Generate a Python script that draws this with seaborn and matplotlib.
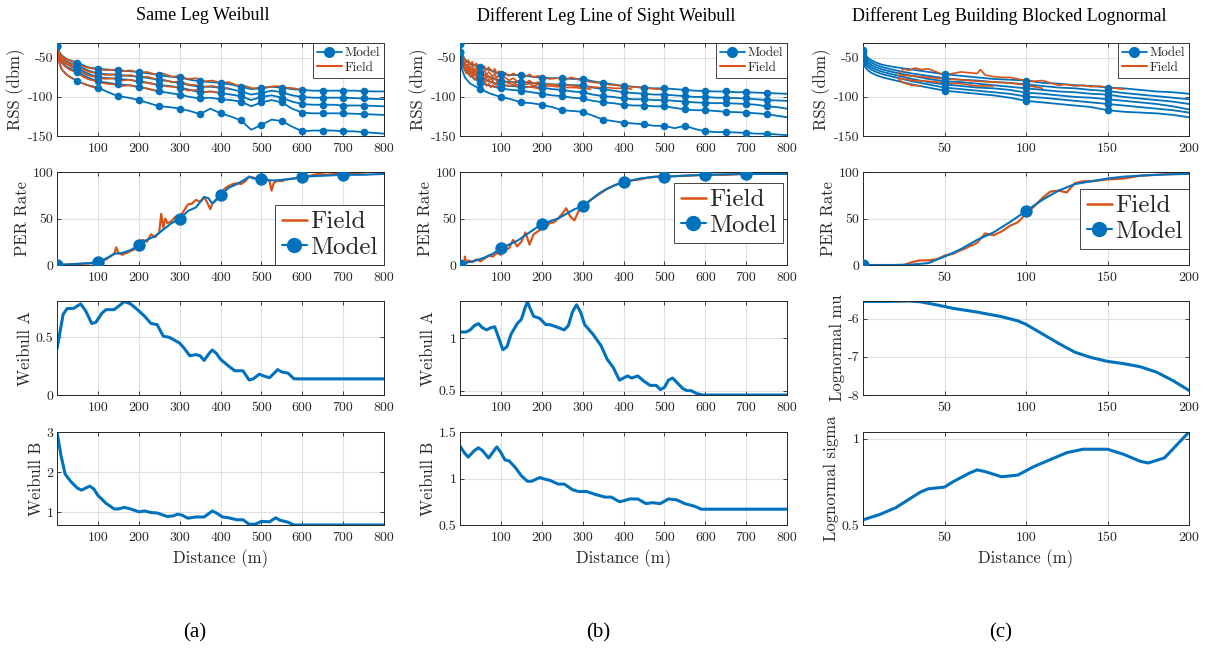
import matplotlib
matplotlib.use('Agg')
import matplotlib.pyplot as plt
import seaborn as sns
from matplotlib.lines import Line2D
from matplotlib.ticker import FixedLocator, FuncFormatter

sns.set_style('ticks')
plt.rcParams['font.family'] = ['cmr10', 'DejaVu Serif']
plt.rcParams['axes.unicode_minus'] = False
plt.rcParams['axes.formatter.use_mathtext'] = False

BLUE = '#0072BD'
ORANGE = '#D95319'

# ---------------- column titles / labels ----------------
col_titles = ['Same Leg Weibull', 'Different Leg Line of Sight Weibull',
              'Different Leg Building Blocked Lognormal']
col_tags = ['(a)', '(b)', '(c)']
xlabel_text = 'Distance (m)'
ylabels_ab = ['RSS (dbm)', 'PER Rate', 'Weibull A', 'Weibull B']
ylabels_c = ['RSS (dbm)', 'PER Rate', 'Lognormal mu', 'Lognormal sigma']

# ---------------- RSS, column (a) ----------------
rss_x_ab = [0, 5, 12, 25, 50, 75, 100, 125, 150, 175, 200, 225, 250, 275, 300, 325, 350,
            375, 400, 425, 450, 475, 500, 525, 550, 575, 600, 625, 650, 675, 700, 725,
            750, 775, 800]
rss_a_m1 = [-35, -42, -47, -52, -56, -62, -64, -65, -66, -67, -68, -70, -72, -74, -75, -78, -80,
            -81, -82, -84, -87, -90, -89, -87, -88, -90, -91, -92, -92, -92, -92, -92, -92.5, -93, -93]
rss_a_m2 = [-35, -44, -50, -55, -60, -66, -70, -71, -72, -73, -74, -76, -78, -80, -82, -85, -87,
            -87, -88, -90, -93, -97, -95, -92, -94, -98, -100, -101, -101, -101, -101, -101.5,
            -102, -102.5, -103]
rss_a_m3 = [-35, -46, -53, -58, -64, -70, -75, -76, -77, -78, -80, -82, -85, -86, -88, -91, -94,
            -93, -95, -97, -99, -104, -100, -98, -101, -106, -109, -110, -110, -110, -111, -111,
            -111, -111.5, -112]
rss_a_m4 = [-35, -48, -56, -62, -68, -75, -80, -82, -84, -85, -87, -90, -93, -95, -97, -100, -102,
            -101, -103, -104, -106, -112, -107, -104, -107, -115, -120, -121, -121, -121, -121,
            -121.5, -122, -122.5, -123]
rss_a_m5 = [-35, -55, -65, -72, -80, -85, -88, -94, -99, -101, -104, -108, -112, -113, -115, -118,
            -122, -115, -121, -125, -130, -142, -136, -129, -131, -138, -144, -143, -143, -143,
            -144, -144, -145, -146, -147]

rss_a_f1_x = [0, 5, 10, 20, 30, 40, 50, 60, 70, 80, 90, 100, 120, 140, 160, 180, 200, 220, 240,
              260, 280, 300, 320, 340, 360, 380, 400, 420, 440, 460, 480, 500, 520, 540, 560,
              580, 590]
rss_a_f1_y = [-35, -43, -47, -51, -53, -55, -57, -60, -62, -63, -64, -64, -66, -65, -67, -66, -69,
              -68, -71, -70, -74, -73, -77, -76, -80, -79, -82, -81, -85, -86, -89, -88, -87, -86,
              -88, -89, -90]
rss_a_f2_x = [0, 5, 10, 20, 30, 40, 50, 60, 70, 80, 90, 100, 120, 140, 160, 180, 200, 220, 240,
              260, 280, 300, 320, 340, 360, 380, 400, 420]
rss_a_f2_y = [-35, -45, -50, -54, -57, -59, -61, -64, -66, -68, -69, -70, -72, -71, -73, -72, -75,
              -74, -77, -78, -81, -80, -84, -85, -87, -86, -88, -89]
rss_a_f3_x = [0, 5, 10, 20, 30, 40, 50, 60, 70, 80, 90, 100, 120, 140, 160, 180, 200, 220, 240,
              260, 280, 300, 320, 340, 360, 380, 400]
rss_a_f3_y = [-35, -47, -53, -57, -60, -63, -65, -68, -71, -73, -74, -76, -77, -76, -79, -78, -81,
              -82, -84, -86, -87, -88, -92, -91, -94, -93, -95]
rss_a_f4_x = [0, 5, 10, 20, 30, 40, 50, 60, 70, 80, 90, 100, 120, 140, 160, 180, 200, 220, 240, 260]
rss_a_f4_y = [-35, -49, -56, -61, -65, -67, -69, -73, -76, -78, -79, -81, -83, -84, -86, -85, -88,
              -89, -92, -93]
rss_a_f5_x = [0, 5, 10, 20, 30, 40, 50, 60, 70, 80, 90, 100]
rss_a_f5_y = [-35, -55, -64, -70, -74, -77, -80, -82, -84, -86, -88, -89]

# ---------------- RSS, column (b) ----------------
rss_b_m1 = [-32, -45, -52, -58, -62, -66, -71, -72, -72, -74, -75.5, -76, -76, -77, -77, -80, -82,
            -84, -86, -87, -88, -89, -89, -90, -91, -92, -92.5, -93, -93, -94, -94, -94.5, -95,
            -95.5, -96]
rss_b_m2 = [-32, -50, -58, -64, -70, -75, -80, -81, -81, -82, -83, -84, -84, -85, -85, -88, -90,
            -92, -94, -95, -96, -97, -97, -98, -99, -100, -100, -101, -101, -101.5, -102, -103,
            -104, -104.5, -105]
rss_b_m3 = [-42, -55, -62, -68, -76, -81, -85, -86, -87, -87, -88, -90, -91, -93, -94, -97, -99,
            -100, -102, -103, -103, -104, -104, -105, -106, -107, -107.5, -108, -108, -108.5,
            -109, -110, -112, -113, -115]
rss_b_m4 = [-42, -58, -66, -73, -82, -86, -89, -91, -92, -94, -96, -98, -99, -101, -102, -105,
            -107, -108, -110, -111, -111, -112, -112, -114, -116, -117, -117, -118, -119, -119.5,
            -120, -121, -122, -124, -126]
rss_b_m5 = [-42, -65, -75, -83, -90, -96, -100, -103, -107, -108, -110, -113, -117, -118, -119,
            -124, -129, -131, -133, -134, -135, -137, -137, -140, -137, -141, -144, -145, -145,
            -145.5, -146, -147, -147, -148, -149]

rss_b_f1_x = [10, 15, 20, 25, 30, 35, 40, 45, 50, 55, 60, 65, 70, 75, 80, 85, 90, 95, 100, 110,
              120, 130, 140, 150, 160, 170, 180, 190, 200, 220, 240, 260, 270, 280, 290, 300,
              320, 340, 360, 380, 400, 420, 440, 460, 480, 500]
rss_b_f1_y = [-50, -56, -53, -58, -55, -60, -57, -62, -59, -63, -61, -66, -62, -65, -68, -64, -70,
              -67, -71, -69, -73, -70, -72, -70, -74, -71, -75, -73, -75, -77, -76, -78, -75, -76,
              -78, -79, -81, -82, -84, -85, -86, -87, -88, -89, -90, -90]
rss_b_f2_x = [10, 15, 20, 25, 30, 35, 40, 45, 50, 55, 60, 65, 70, 75, 80, 85, 90, 95, 100, 110,
              120, 130, 140, 150, 160, 170, 180, 190, 200, 220, 240, 260, 280, 300, 320, 340, 360,
              380, 400, 420]
rss_b_f2_y = [-55, -60, -58, -63, -60, -66, -62, -68, -64, -70, -66, -72, -68, -71, -74, -70, -76,
              -72, -77, -75, -79, -76, -80, -78, -82, -79, -83, -81, -83, -84, -85, -85, -86, -87,
              -87, -88, -88, -89, -89, -90]
rss_b_f3_x = [10, 15, 20, 25, 30, 35, 40, 45, 50, 55, 60, 65, 70, 75, 80, 85, 90, 95, 100, 110,
              120, 130, 140, 150, 160, 170, 180, 190, 200, 220, 240, 260, 280, 300, 320]
rss_b_f3_y = [-58, -64, -61, -67, -64, -70, -66, -72, -69, -74, -71, -76, -73, -77, -79, -75, -80,
              -78, -82, -80, -83, -81, -85, -82, -84, -83, -86, -84, -86, -86, -87, -88, -88, -89,
              -90]
rss_b_f4_x = [10, 15, 20, 25, 30, 35, 40, 45, 50, 55, 60, 65, 70, 75, 80, 85, 90, 95, 100, 110,
              120, 130, 140, 150, 160, 170, 180, 190, 200]
rss_b_f4_y = [-60, -66, -64, -70, -67, -73, -70, -76, -73, -78, -75, -80, -77, -82, -80, -84, -81,
              -86, -84, -85, -86, -84, -87, -86, -88, -87, -88, -89, -90]
rss_b_f5_x = [10, 15, 20, 25, 30, 35, 40, 45, 50, 55, 60, 65, 70, 75, 80, 85, 90, 95, 100]
rss_b_f5_y = [-62, -70, -67, -74, -71, -78, -75, -81, -78, -84, -80, -86, -83, -88, -85, -87, -86,
              -89, -88]

# ---------------- RSS, column (c) ----------------
rss_x_c = [0, 1, 3, 5, 8, 12, 20, 30, 40, 50, 60, 70, 80, 90, 100, 110, 120, 130, 140, 150, 160,
           170, 180, 190, 200]
rss_c_m1 = [-40, -45, -50, -53, -56, -59, -62, -65, -68, -71, -73, -75, -77, -78, -79, -82, -83,
            -85, -86, -88, -89, -91, -93, -94, -96]
rss_c_m2 = [-43, -48, -53, -56, -59, -62, -66, -70, -73, -76, -78, -79, -81, -82, -84, -86, -88,
            -89, -91, -92.5, -95, -97, -99, -101, -103]
rss_c_m3 = [-46, -51, -56, -59, -62, -65, -69, -73, -77, -80, -81, -83, -85, -87, -89, -91, -93,
            -94, -96, -97, -100, -102, -104, -106, -109]
rss_c_m4 = [-49, -54, -59, -62, -65, -68, -72, -77, -81, -84, -86, -88, -89, -91, -94.5, -96, -98,
            -100, -101, -103, -105, -107, -109, -112, -116]
rss_c_m5 = [-52, -57, -62, -65, -68, -71, -75, -80, -84, -88, -90, -92, -94, -96, -99.5, -101,
            -103, -105, -107, -109, -111, -113, -115, -117, -120]
rss_c_m6 = [-56, -61, -66, -69, -72, -75, -79, -84, -88, -92, -94, -96, -98, -101, -105, -107,
            -109, -111, -113, -117, -119, -120, -121, -123, -126]

rss_c_f1_x = [22, 25, 28, 32, 36, 40, 45, 50, 55, 60, 65, 70, 72, 75, 80, 85, 90, 95, 100, 105,
              110, 115, 120, 125, 130, 135, 140, 145, 150, 155, 160]
rss_c_f1_y = [-70, -64, -66, -63, -65, -64, -68, -72, -70, -68, -69, -70, -65, -72, -74, -75, -75,
              -77, -79, -80, -79, -82, -85, -84, -86, -85, -87, -86, -88, -89, -90]
rss_c_f2_x = [22, 30, 40, 50, 60, 70, 80, 90, 100, 110]
rss_c_f2_y = [-72, -73, -75, -77, -78, -80, -81, -82, -85, -89]
rss_c_f3_x = [22, 30, 40, 50, 60, 70, 80]
rss_c_f3_y = [-76, -79, -80, -82, -83, -86, -86]
rss_c_f4_x = [22, 25, 30, 35]
rss_c_f4_y = [-78, -82, -85, -86]

# ---------------- PER ----------------
per_a_model_x = [0, 20, 40, 60, 80, 100, 120, 140, 160, 180, 200, 220, 240, 260, 280, 300, 320,
                 340, 360, 370, 380, 390, 400, 420, 440, 460, 470, 480, 500, 520, 540, 560, 580,
                 600, 650, 700, 750, 800]
per_a_model_y = [0, 0.5, 1, 1.5, 2, 3, 7, 12, 13, 16, 21, 27, 31, 38, 45, 49, 58, 62, 73, 72, 66,
                 70, 75, 83, 87, 92, 95, 93, 93, 91, 91, 92, 93, 95, 96, 97, 97, 98]
per_a_field_x = [0, 50, 90, 100, 120, 140, 145, 150, 160, 170, 180, 190, 200, 210, 220, 230, 240,
                 250, 255, 260, 265, 270, 280, 290, 300, 310, 320, 330, 340, 350, 360, 370, 375,
                 380, 390, 400, 410, 420, 430, 440, 450, 460, 470, 480, 490, 500, 510, 520, 525,
                 530, 540, 550, 560, 580, 600, 620, 640, 660, 680, 700, 720, 740, 760, 780, 800]
per_a_field_y = [0, 1, 2, 3, 6, 12, 19, 13, 11, 13, 15, 17, 25, 27, 25, 33, 30, 35, 55, 40, 50,
                 45, 47, 52, 51, 58, 65, 66, 70, 68, 73, 65, 60, 66, 71, 74, 82, 85, 87, 88, 87,
                 90, 95, 94, 93, 92, 94, 90, 80, 88, 91, 90, 92, 93, 95, 96, 98, 97, 98, 98, 99,
                 99, 100, 100, 100]

per_b_model_x = [0, 20, 40, 60, 80, 100, 120, 140, 160, 180, 200, 220, 240, 260, 280, 300, 320,
                 340, 360, 380, 400, 420, 440, 460, 480, 500, 550, 600, 650, 700, 750, 800]
per_b_model_y = [0, 3, 5, 8, 12, 18, 22, 26, 32, 38, 44, 47, 50, 55, 60, 63, 70, 77, 82, 86, 89,
                 91, 93, 94, 95, 95, 96, 97, 97.5, 98, 98, 98]
per_b_field_x = [10, 12, 15, 20, 30, 40, 50, 60, 70, 80, 90, 100, 110, 120, 130, 140, 150, 160,
                 170, 180, 190, 200, 210, 220, 230, 240, 250, 260, 270, 280, 290, 300, 320, 340,
                 360, 380, 400, 420, 440, 460, 480, 500, 550, 600, 650, 700, 750, 800]
per_b_field_y = [0, 9, 2, 5, 3, 6, 4, 7, 10, 9, 13, 11, 16, 18, 27, 20, 25, 35, 22, 33, 36, 40,
                 42, 45, 46, 50, 55, 61, 52, 48, 58, 62, 70, 76, 82, 86, 89, 91, 92, 94, 95, 95,
                 96, 97, 97, 98, 98, 98]

per_c_model_x = [0, 10, 20, 30, 40, 50, 60, 70, 80, 90, 100, 110, 120, 130, 140, 150, 160, 170,
                 180, 190, 200]
per_c_model_y = [0, 0, 0, 0.5, 2, 9, 17, 27, 35, 46, 58, 70, 80, 87, 90, 93, 95, 96, 97, 97.5, 98]
per_c_field_x = [20, 25, 30, 35, 40, 45, 50, 55, 60, 63, 65, 68, 70, 75, 80, 85, 90, 95, 100, 105,
                 110, 115, 120, 125, 130, 135, 140, 150, 160, 170, 180, 190, 200]
per_c_field_y = [0, 0, 3, 5, 5, 6, 10, 12, 16, 18, 20, 22, 24, 34, 32, 36, 42, 46, 55, 63, 72, 79,
                 80, 78, 88, 90, 90, 92, 93, 96, 97, 98, 98]

# ---------------- distribution parameters ----------------
wa_a_x = [0, 15, 25, 40, 58, 70, 85, 95, 110, 120, 140, 165, 180, 200, 215, 230, 245, 260, 275,
          290, 300, 310, 325, 340, 350, 360, 372, 380, 390, 400, 420, 435, 455, 470, 480, 495,
          510, 520, 540, 550, 565, 580, 600, 800]
wa_a_y = [0.40, 0.70, 0.75, 0.75, 0.79, 0.73, 0.62, 0.63, 0.71, 0.74, 0.74, 0.81, 0.79, 0.73,
          0.68, 0.62, 0.61, 0.51, 0.50, 0.47, 0.45, 0.41, 0.34, 0.35, 0.34, 0.30, 0.36, 0.39,
          0.36, 0.31, 0.25, 0.21, 0.21, 0.13, 0.14, 0.18, 0.16, 0.15, 0.22, 0.20, 0.19, 0.14,
          0.14, 0.14]
wb_a_x = [0, 10, 20, 35, 50, 60, 70, 80, 90, 100, 120, 140, 150, 165, 180, 200, 215, 230, 245,
          270, 285, 295, 305, 320, 340, 360, 380, 390, 405, 420, 440, 455, 470, 485, 500, 520,
          535, 545, 565, 580, 800]
wb_a_y = [3.0, 2.4, 1.95, 1.75, 1.6, 1.55, 1.6, 1.65, 1.58, 1.42, 1.22, 1.08, 1.08, 1.12, 1.08,
          1.01, 1.03, 0.99, 0.98, 0.89, 0.91, 0.95, 0.93, 0.85, 0.88, 0.88, 1.03, 0.98, 0.88,
          0.86, 0.81, 0.81, 0.70, 0.70, 0.77, 0.76, 0.86, 0.80, 0.75, 0.68, 0.68]
wa_b_x = [0, 15, 25, 35, 45, 55, 65, 75, 85, 95, 105, 115, 125, 140, 150, 160, 165, 170, 180,
          195, 210, 220, 235, 255, 265, 275, 285, 295, 305, 325, 345, 360, 375, 390, 400, 410,
          420, 435, 450, 465, 480, 490, 500, 510, 520, 530, 545, 555, 565, 580, 595, 800]
wa_b_y = [1.06, 1.06, 1.08, 1.12, 1.14, 1.10, 1.08, 1.10, 1.11, 1.00, 0.89, 0.92, 1.04, 1.14,
          1.18, 1.30, 1.35, 1.30, 1.21, 1.19, 1.13, 1.13, 1.11, 1.08, 1.12, 1.25, 1.32, 1.25,
          1.13, 1.04, 0.93, 0.80, 0.72, 0.60, 0.62, 0.64, 0.62, 0.64, 0.59, 0.55, 0.55, 0.51,
          0.53, 0.60, 0.62, 0.58, 0.52, 0.50, 0.50, 0.47, 0.458, 0.458]
wb_b_x = [0, 10, 20, 35, 45, 55, 70, 80, 90, 100, 110, 120, 135, 150, 165, 175, 195, 210, 220,
          240, 255, 275, 290, 310, 330, 355, 370, 390, 400, 415, 435, 455, 470, 490, 510, 530,
          550, 575, 590, 800]
wb_b_y = [1.35, 1.28, 1.23, 1.30, 1.33, 1.30, 1.22, 1.28, 1.34, 1.28, 1.20, 1.19, 1.12, 1.03,
          0.97, 0.97, 1.01, 0.99, 0.98, 0.94, 0.94, 0.88, 0.86, 0.86, 0.83, 0.80, 0.80, 0.75,
          0.76, 0.78, 0.78, 0.73, 0.74, 0.73, 0.78, 0.77, 0.73, 0.70, 0.67, 0.67]
mu_c_x = [0, 15, 28, 35, 45, 55, 70, 85, 95, 100, 110, 120, 130, 140, 150, 160, 170, 180, 190, 200]
mu_c_y = [-5.55, -5.55, -5.54, -5.56, -5.64, -5.73, -5.83, -5.95, -6.06, -6.15, -6.40, -6.65,
          -6.88, -7.02, -7.12, -7.18, -7.26, -7.40, -7.62, -7.88]
sg_c_x = [0, 10, 20, 25, 35, 40, 50, 55, 65, 70, 75, 85, 95, 105, 115, 125, 135, 150, 160, 170,
          175, 185, 195, 200]
sg_c_y = [0.53, 0.56, 0.60, 0.63, 0.69, 0.71, 0.72, 0.75, 0.80, 0.82, 0.81, 0.78, 0.79, 0.84,
          0.88, 0.92, 0.94, 0.94, 0.91, 0.87, 0.86, 0.89, 0.99, 1.04]

# ======================================================================
W, H = 1207, 651
fig = plt.figure(figsize=(W / 100, H / 100), dpi=100)
fig.patch.set_facecolor('white')

cols = [(57, 384), (460, 787), (863, 1189)]
rows = [(43, 136), (172, 265), (301, 395), (432, 525)]


def add_ax(c, r):
    x0, x1 = cols[c]
    y0, y1 = rows[r]
    return fig.add_axes([x0 / W, 1 - y1 / H, (x1 - x0) / W, (y1 - y0) / H])


fmt = FuncFormatter(lambda v, p: '%g' % v)


def style(ax, xmax, xticks, ylim, yticks, ylabel, xlabel=None):
    ax.set_xlim(0, xmax)
    ax.set_ylim(*ylim)
    ax.xaxis.set_major_locator(FixedLocator(xticks))
    ax.yaxis.set_major_locator(FixedLocator(yticks))
    ax.xaxis.set_major_formatter(fmt)
    ax.yaxis.set_major_formatter(fmt)
    ax.grid(True, color='#e0e0e0', linewidth=0.8)
    ax.set_axisbelow(True)
    ax.tick_params(axis='both', direction='in', top=True, right=True, length=3,
                   width=0.6, labelsize=10, colors='#262626', labelcolor='#262626')
    ax.tick_params(axis='x', pad=5)
    ax.tick_params(axis='y', pad=2.5)
    for s in ax.spines.values():
        s.set_visible(True)
        s.set_linewidth(0.7)
        s.set_color('#262626')
    ax.set_ylabel(ylabel, fontsize=12, labelpad=2, color='#262626')
    ax.set_xlabel(xlabel if xlabel else '', fontsize=12, labelpad=4, color='#262626')


def mark_pts(xs, ys, step, xmax):
    mx = [v for v in xs if v % step == 0 and v < xmax]
    my = [ys[i] for i, v in enumerate(xs) if v % step == 0 and v < xmax]
    return mx, my


def rss_panel(ax, xs, models, fields, xmax):
    for y in models:
        sns.lineplot(x=xs, y=y, ax=ax, color=BLUE, linewidth=1.3, legend=False)
    for fx, fy in fields:
        sns.lineplot(x=fx, y=fy, ax=ax, color=ORANGE, linewidth=1.2, legend=False)
    for y in models:
        mx, my = mark_pts(xs, y, 50, xmax)
        sns.scatterplot(x=mx, y=my, ax=ax, color=BLUE, s=30, linewidth=0, zorder=5,
                        legend=False)
    h = [Line2D([], [], color=BLUE, linewidth=1.3, marker='o', markersize=7),
         Line2D([], [], color=ORANGE, linewidth=1.5)]
    leg = ax.legend(h, ['Model', 'Field'], loc='upper right', borderaxespad=0.0,
                    fontsize=9.5, handlelength=1.9, handletextpad=0.2, borderpad=0.3,
                    labelspacing=0.2, frameon=True, fancybox=False, framealpha=1)
    leg.get_frame().set_edgecolor('#262626')
    leg.get_frame().set_linewidth(0.6)


def per_panel(ax, mxs, mys, fxs, fys, xmax, anchor):
    sns.lineplot(x=fxs, y=fys, ax=ax, color=ORANGE, linewidth=1.6, legend=False)
    sns.lineplot(x=mxs, y=mys, ax=ax, color=BLUE, linewidth=1.5, legend=False)
    mx, my = mark_pts(mxs, mys, 100, xmax)
    sns.scatterplot(x=mx, y=my, ax=ax, color=BLUE, s=80, linewidth=0, zorder=5,
                    legend=False)
    h = [Line2D([], [], color=ORANGE, linewidth=1.8),
         Line2D([], [], color=BLUE, linewidth=1.5, marker='o', markersize=10)]
    leg = ax.legend(h, ['Field', 'Model'], loc='lower right', bbox_to_anchor=anchor,
                    borderaxespad=0.0, fontsize=18, handlelength=1.0, handletextpad=0.15,
                    borderpad=0.25, labelspacing=0.12, frameon=True, fancybox=False,
                    framealpha=1)
    leg.get_frame().set_edgecolor('#262626')
    leg.get_frame().set_linewidth(0.6)


def param_panel(ax, xs, ys):
    sns.lineplot(x=xs, y=ys, ax=ax, color=BLUE, linewidth=2.2, legend=False)


xt_ab = [100, 200, 300, 400, 500, 600, 700, 800]
xt_c = [50, 100, 150, 200]
rss_ylim = (-150, -31)
rss_yt = [-150, -100, -50]

# ---- column a ----
ax = add_ax(0, 0)
rss_panel(ax, rss_x_ab, [rss_a_m1, rss_a_m2, rss_a_m3, rss_a_m4, rss_a_m5],
          [(rss_a_f1_x, rss_a_f1_y), (rss_a_f2_x, rss_a_f2_y), (rss_a_f3_x, rss_a_f3_y),
           (rss_a_f4_x, rss_a_f4_y), (rss_a_f5_x, rss_a_f5_y)], 800)
style(ax, 800, xt_ab, rss_ylim, rss_yt, ylabels_ab[0])

ax = add_ax(0, 1)
per_panel(ax, per_a_model_x, per_a_model_y, per_a_field_x, per_a_field_y, 800, (1.0, 0.0))
style(ax, 800, xt_ab, (0, 100), [0, 50, 100], ylabels_ab[1])

ax = add_ax(0, 2)
param_panel(ax, wa_a_x, wa_a_y)
style(ax, 800, xt_ab, (0, 0.815), [0, 0.5], ylabels_ab[2])

ax = add_ax(0, 3)
param_panel(ax, wb_a_x, wb_a_y)
style(ax, 800, xt_ab, (0.68, 3.0), [1, 2, 3], ylabels_ab[3], xlabel_text)

# ---- column b ----
ax = add_ax(1, 0)
rss_panel(ax, rss_x_ab, [rss_b_m1, rss_b_m2, rss_b_m3, rss_b_m4, rss_b_m5],
          [(rss_b_f1_x, rss_b_f1_y), (rss_b_f2_x, rss_b_f2_y), (rss_b_f3_x, rss_b_f3_y),
           (rss_b_f4_x, rss_b_f4_y), (rss_b_f5_x, rss_b_f5_y)], 800)
style(ax, 800, xt_ab, rss_ylim, rss_yt, ylabels_ab[0])

ax = add_ax(1, 1)
per_panel(ax, per_b_model_x, per_b_model_y, per_b_field_x, per_b_field_y, 800,
          (1 - 4 / 327, 22 / 93))
style(ax, 800, xt_ab, (0, 100), [0, 50, 100], ylabels_ab[1])

ax = add_ax(1, 2)
param_panel(ax, wa_b_x, wa_b_y)
style(ax, 800, xt_ab, (0.458, 1.356), [0.5, 1], ylabels_ab[2])

ax = add_ax(1, 3)
param_panel(ax, wb_b_x, wb_b_y)
style(ax, 800, xt_ab, (0.5, 1.5), [0.5, 1, 1.5], ylabels_ab[3], xlabel_text)

# ---- column c ----
ax = add_ax(2, 0)
rss_panel(ax, rss_x_c, [rss_c_m1, rss_c_m2, rss_c_m3, rss_c_m4, rss_c_m5, rss_c_m6],
          [(rss_c_f1_x, rss_c_f1_y), (rss_c_f2_x, rss_c_f2_y), (rss_c_f3_x, rss_c_f3_y),
           (rss_c_f4_x, rss_c_f4_y)], 200)
style(ax, 200, xt_c, rss_ylim, rss_yt, ylabels_c[0])

ax = add_ax(2, 1)
per_panel(ax, per_c_model_x, per_c_model_y, per_c_field_x, per_c_field_y, 200,
          (1.0, 16 / 93))
style(ax, 200, xt_c, (0, 100), [0, 50, 100], ylabels_c[1])

ax = add_ax(2, 2)
param_panel(ax, mu_c_x, mu_c_y)
style(ax, 200, xt_c, (-8, -5.54), [-8, -7, -6], ylabels_c[2])

ax = add_ax(2, 3)
param_panel(ax, sg_c_x, sg_c_y)
style(ax, 200, xt_c, (0.5, 1.04), [0.5, 1], ylabels_c[3], xlabel_text)

# ---- titles and tags ----
title_cx = [203, 606, 1009]
for cx, t, tag in zip(title_cx, col_titles, col_tags):
    fig.text(cx / W, 1 - 16 / H, t, ha='center', va='center', fontsize=13,
             family='Liberation Serif', color='black')
    fig.text((cx - 8) / W, 1 - 633 / H, tag, ha='center', va='center', fontsize=15,
             family='Liberation Serif', color='black')

fig.savefig('out.png', dpi=100, facecolor='white')
